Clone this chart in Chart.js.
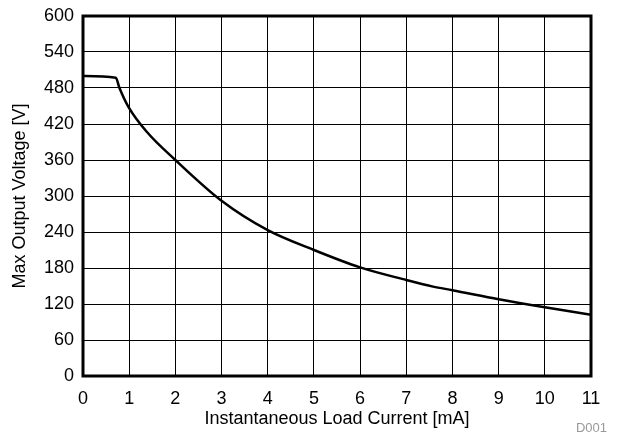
<!DOCTYPE html>
<html>
<head>
<meta charset="utf-8">
<script src="https://cdn.jsdelivr.net/npm/chart.js@4"></script>
<style>
html,body{margin:0;padding:0;background:#fff;}
#wrap{width:619px;height:435px;position:relative;}
</style>
</head>
<body>
<div id="wrap"><canvas id="c" width="619" height="435"></canvas></div>
<script>
const currentMA = [0, 0.71, 0.79, 0.98, 1.38, 2.0, 3.0, 4.0, 5.0, 6.0, 7.0, 7.58, 8.0, 9.0, 10.0, 11.0];
const maxVoltage = [500, 497, 480, 449, 407, 360, 292, 243, 210, 181, 160, 149, 143, 128, 114.5, 102];
const xTitle = 'Instantaneous Load Current [mA]';
const yTitle = 'Max Output Voltage [V]';
const footnote = 'D001';

const FONT = '"Liberation Sans", Arial, sans-serif';
const FS = 18;

const frame = {
  id: 'frame',
  afterDatasetsDraw(chart) {
    const {ctx, chartArea: a} = chart;
    ctx.save();
    ctx.strokeStyle = '#000';
    ctx.lineWidth = 3;
    ctx.strokeRect(a.left, a.top, a.right - a.left, a.bottom - a.top);
    ctx.fillStyle = '#999';
    ctx.font = '13px ' + FONT;
    ctx.textAlign = 'right';
    ctx.textBaseline = 'alphabetic';
    ctx.fillText(footnote, 607, 432);
    ctx.restore();
  }
};

new Chart(document.getElementById('c'), {
  type: 'line',
  data: {
    datasets: [{
      data: currentMA.map((x, i) => ({x, y: maxVoltage[i]})),
      borderColor: '#000',
      borderWidth: 2.5,
      pointRadius: 0,
      cubicInterpolationMode: 'monotone',
      fill: false
    }]
  },
  options: {
    responsive: false,
    animation: false,
    devicePixelRatio: 1,
    layout: {padding: {top: 16, right: 28, left: 0, bottom: 0}},
    plugins: {legend: {display: false}, tooltip: {enabled: false}},
    scales: {
      x: {
        type: 'linear', min: 0, max: 11,
        ticks: {stepSize: 1, color: '#000', font: {family: FONT, size: FS}, padding: 12, maxRotation: 0},
        grid: {color: '#000', lineWidth: 1, drawTicks: false},
        border: {display: false},
        title: {display: true, text: xTitle, color: '#000', font: {family: FONT, size: FS}, padding: {top: 0, bottom: 5}},
        afterFit(s) { s.height = 59; }
      },
      y: {
        type: 'linear', min: 0, max: 600,
        ticks: {stepSize: 30, color: '#000', font: {family: FONT, size: FS}, padding: 9,
          callback: v => (v % 60 === 0 ? v : '')},
        grid: {color: '#000', lineWidth: 1, drawTicks: false},
        border: {display: false},
        title: {display: true, text: yTitle, color: '#000', font: {family: FONT, size: FS}, padding: {top: 9, bottom: 0}},
        afterFit(s) { s.width = 83; s.paddingTop = 0; s.paddingBottom = 0; }
      }
    }
  },
  plugins: [frame]
});
</script>
</body>
</html>
